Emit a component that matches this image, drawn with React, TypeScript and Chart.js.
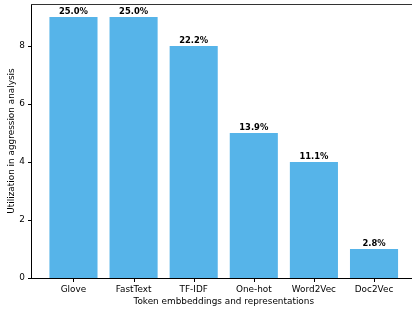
import React, { useEffect, useRef } from "react";
import { Chart, registerables } from "chart.js";

Chart.register(...registerables);

const categories = ["Glove", "FastText", "TF-IDF", "One-hot", "Word2Vec", "Doc2Vec"];
const counts = [9, 9, 8, 5, 4, 1];
const pctLabels = ["25.0%", "25.0%", "22.2%", "13.9%", "11.1%", "2.8%"];
const yTicks = [0, 2, 4, 6, 8];

const FONT = "'DejaVu Sans', sans-serif";

const labelPlugin = {
  id: "barLabels",
  afterDatasetsDraw(chart: any) {
    const ctx = chart.ctx;
    const meta = chart.getDatasetMeta(0);
    ctx.save();
    ctx.font = `bold 8.4px ${FONT}`;
    ctx.fillStyle = "#000";
    ctx.textAlign = "center";
    ctx.textBaseline = "alphabetic";
    meta.data.forEach((bar: any, i: number) => {
      ctx.fillText(pctLabels[i], bar.x, bar.y - 3);
    });
    ctx.restore();
  },
};

const spinePlugin = {
  id: "spines",
  afterDraw(chart: any) {
    const { ctx, chartArea, scales } = chart;
    const l = Math.round(chartArea.left) - 0.5;
    const b = Math.round(chartArea.bottom) + 0.5;
    const t = Math.round(chartArea.top) + 0.5;
    const r = Math.min(chartArea.right, 412);
    ctx.save();
    ctx.lineWidth = 1;
    ctx.strokeStyle = "#000";
    ctx.beginPath();
    // left spine
    ctx.moveTo(l, t - 0.5);
    ctx.lineTo(l, b + 0.5);
    // bottom spine
    ctx.moveTo(l - 0.5, b);
    ctx.lineTo(r, b);
    // x tick marks
    categories.forEach((_, i) => {
      const x = Math.round(scales.x.getPixelForValue(i)) + 0.5;
      ctx.moveTo(x, b);
      ctx.lineTo(x, b + 3.5);
    });
    // y tick marks
    yTicks.forEach((v) => {
      const y = Math.round(scales.y.getPixelForValue(v)) + 0.5;
      ctx.moveTo(l - 3.5, y);
      ctx.lineTo(l, y);
    });
    ctx.stroke();
    // top spine
    ctx.strokeStyle = "#333";
    ctx.beginPath();
    ctx.moveTo(l - 0.5, t);
    ctx.lineTo(r, t);
    ctx.stroke();
    ctx.restore();
  },
};

export default function App() {
  const ref = useRef<HTMLCanvasElement | null>(null);

  useEffect(() => {
    if (!ref.current) return;
    const chart = new Chart(ref.current, {
      type: "bar",
      data: {
        datasets: [
          {
            data: counts.map((v, i) => ({ x: i, y: v })),
            backgroundColor: "#56B4E9",
            borderWidth: 0,
            categoryPercentage: 1,
            barPercentage: 0.8,
          },
        ],
      },
      options: {
        responsive: false,
        devicePixelRatio: 1,
        animation: false,
        layout: { padding: { top: 4, right: 14.5, left: 0, bottom: 0 } },
        plugins: { legend: { display: false }, tooltip: { enabled: false } },
        scales: {
          x: {
            type: "linear",
            offset: false,
            min: -0.69,
            max: 5.69,
            afterBuildTicks: (scale: any) => {
              scale.ticks = categories.map((_, i) => ({ value: i }));
            },
            afterFit: (scale: any) => {
              scale.height = 34;
              scale.paddingLeft = 0;
              scale.paddingRight = 0;
            },
            ticks: {
              autoSkip: false,
              maxRotation: 0,
              padding: 2,
              color: "#000",
              font: { family: FONT, size: 8.9 },
              callback: (v: any) => categories[v as number] ?? "",
            },
            grid: { display: false, drawTicks: true, tickLength: 4 },
            border: { display: false },
            title: {
              display: true,
              text: "Token embbeddings and representations",
              color: "#000",
              font: { family: FONT, size: 8.9 },
              padding: { top: 1, bottom: 5 },
            },
          },
          y: {
            min: 0,
            max: 9.45,
            afterBuildTicks: (scale: any) => {
              scale.ticks = yTicks.map((v) => ({ value: v }));
            },
            afterFit: (scale: any) => {
              scale.width = 32;
              scale.paddingTop = 0;
              scale.paddingBottom = 0;
            },
            ticks: {
              padding: 3,
              color: "#000",
              font: { family: FONT, size: 8.9 },
            },
            grid: { display: false, drawTicks: true, tickLength: 4 },
            border: { display: false },
            title: {
              display: true,
              text: "Utilization in aggression analysis",
              color: "#000",
              font: { family: FONT, size: 8.9 },
              padding: { top: 6, bottom: 0 },
            },
          },
        },
      },
      plugins: [labelPlugin, spinePlugin],
    });
    return () => chart.destroy();
  }, []);

  return (
    <div
      style={{
        position: "fixed",
        left: 0,
        top: 0,
        width: 412,
        height: 312,
        overflow: "hidden",
        background: "#fff",
      }}
    >
      <canvas ref={ref} width={430} height={312} style={{ display: "block", width: 430, height: 312 }} />
    </div>
  );
}
